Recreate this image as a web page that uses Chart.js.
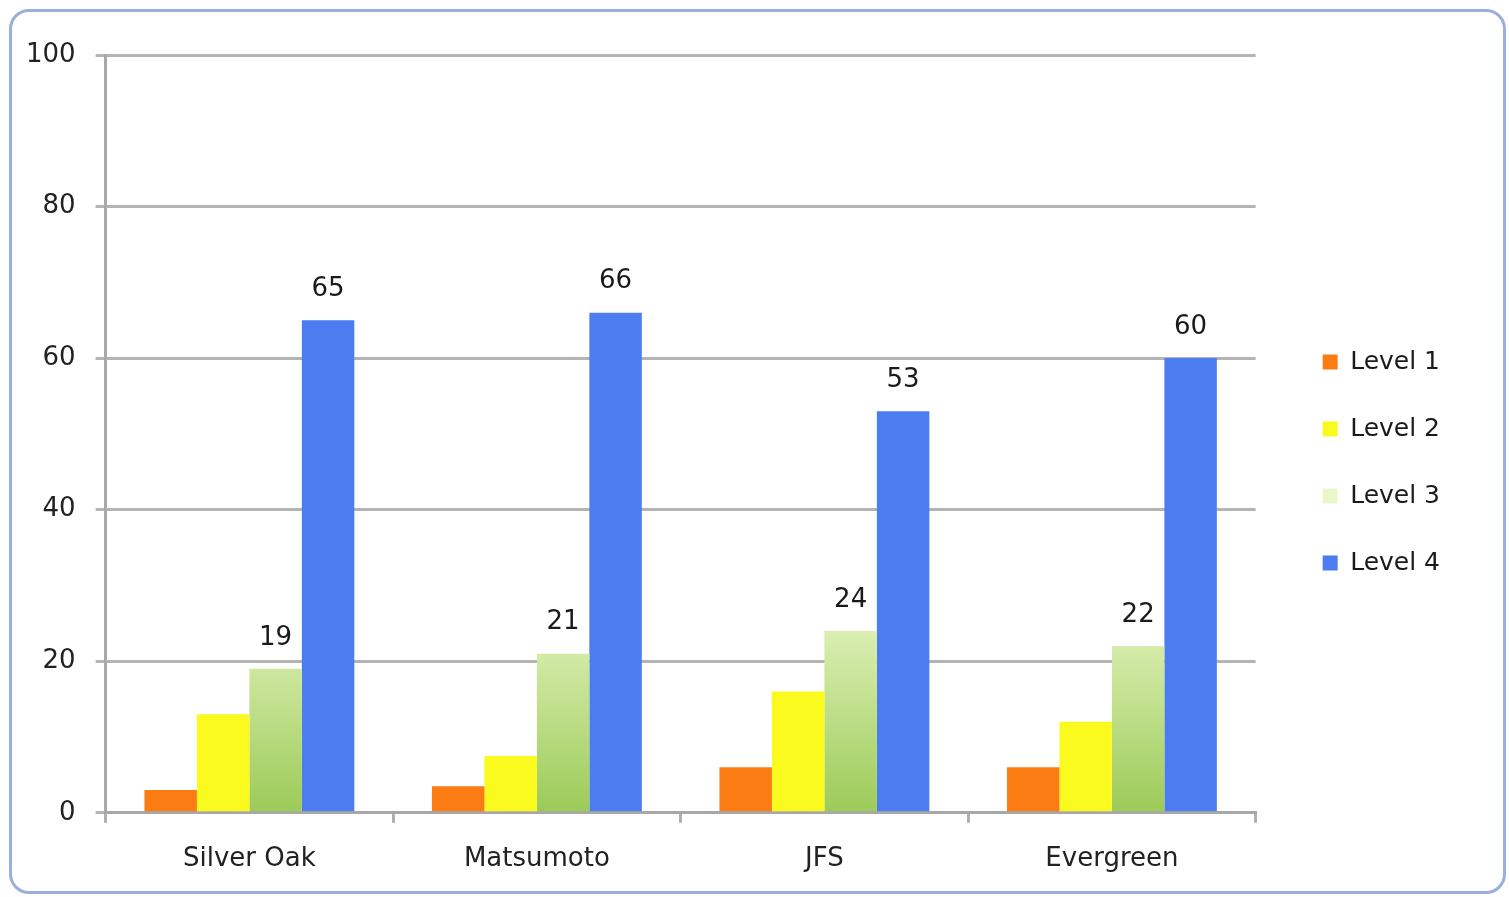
<!DOCTYPE html>
<html>
<head>
<meta charset="utf-8">
<script src="https://cdn.jsdelivr.net/npm/chart.js@4/dist/chart.umd.min.js"></script>
<style>
  html, body { margin: 0; padding: 0; background: #ffffff; }
  #frame {
    position: absolute; left: 9px; top: 9px; width: 1497px; height: 885px;
    border: 3px solid #9aafdf; border-radius: 20px; box-sizing: border-box;
    background: #ffffff; overflow: hidden;
  }
  #wrap { position: absolute; left: 0; top: 0; width: 1491px; height: 879px; }
</style>
</head>
<body>
<div id="frame"><div id="wrap"><canvas id="levelChart"></canvas></div></div>
<script>
document.addEventListener("DOMContentLoaded", function() {
  const ctx = document.getElementById('levelChart').getContext('2d');

  // Data
  const schools = ['Silver Oak', 'Matsumoto', 'JFS', 'Evergreen'];
  const level1 = [3, 3.5, 6, 6];
  const level2 = [13, 7.5, 16, 12];
  const level3 = [19, 21, 24, 22];
  const level4 = [65, 66, 53, 60];
  const yTicks = [0, 20, 40, 60, 80, 100];

  const fontFamily = "'DejaVu Sans', 'Open Sans', sans-serif";

  // green bars fade from pale at top to mid green at bottom
  function greenFill(context) {
    const area = context.chart.chartArea;
    if (!area) return '#c4dc98';
    const g = context.chart.ctx.createLinearGradient(0, area.top + 0.75 * (area.bottom - area.top) - 40, 0, area.bottom);
    g.addColorStop(0, '#eaf8c8');
    g.addColorStop(1, '#9ccb58');
    return g;
  }

  // labels above Level 3 and Level 4 bars only
  const valueLabels = {
    id: 'valueLabels',
    afterDatasetsDraw(chart) {
      const c = chart.ctx;
      c.save();
      c.font = '26px ' + fontFamily;
      c.fillStyle = '#1a1a1a';
      c.textAlign = 'center';
      c.textBaseline = 'bottom';
      [2, 3].forEach(function(di) {
        const meta = chart.getDatasetMeta(di);
        meta.data.forEach(function(bar, i) {
          c.fillText(chart.data.datasets[di].data[i], bar.x, bar.y - 18);
        });
      });
      c.restore();
    }
  };

  // push the legend a bit further away from the plot, and lift it slightly
  const legendGap = 25;
  const legendLift = 13;
  const legendSpacer = {
    id: 'legendSpacer',
    beforeInit(chart) {
      const lg = chart.legend;
      if (!lg) return;
      const fit = lg.fit.bind(lg);
      lg.fit = function() { fit(); this.width += legendGap; };
    },
    afterLayout(chart) {
      const lg = chart.legend;
      if (!lg) return;
      lg.left += legendGap;
      lg.top -= legendLift;
      lg.bottom -= legendLift;
    }
  };

  new Chart(ctx, {
    type: 'bar',
    data: {
      labels: schools,
      datasets: [
        { label: 'Level 1', data: level1, backgroundColor: '#fb7c12' },
        { label: 'Level 2', data: level2, backgroundColor: '#fbfa1e' },
        { label: 'Level 3', data: level3, backgroundColor: greenFill },
        { label: 'Level 4', data: level4, backgroundColor: '#4d7bf0' }
      ]
    },
    options: {
      responsive: true,
      maintainAspectRatio: false,
      animation: false,
      layout: { padding: { left: -6, top: 43, right: 53, bottom: -5 } },
      datasets: { bar: { categoryPercentage: 0.73, barPercentage: 1.0 } },
      scales: {
        x: {
          grid: { offset: true, drawOnChartArea: false, color: '#b0b0b0', lineWidth: 3, tickLength: 10 },
          border: { color: '#a8a8a8', width: 3 },
          ticks: { color: '#222', font: { family: fontFamily, size: 26 }, padding: 21 }
        },
        y: {
          min: 0,
          max: 100,
          afterBuildTicks: function(axis) { axis.ticks = yTicks.map(function(v) { return { value: v }; }); },
          grid: { color: '#b4b4b4', lineWidth: 3, tickLength: 10 },
          border: { color: '#a8a8a8', width: 3 },
          ticks: { color: '#222', font: { family: fontFamily, size: 26 }, padding: 20 }
        }
      },
      plugins: {
        legend: {
          position: 'right',
          labels: {
            color: '#1a1a1a',
            font: { family: fontFamily, size: 25 },
            boxWidth: 15,
            boxHeight: 15,
            padding: 42
          }
        },
        tooltip: { enabled: false }
      }
    },
    plugins: [valueLabels, legendSpacer]
  });
});
</script>
</body>
</html>
